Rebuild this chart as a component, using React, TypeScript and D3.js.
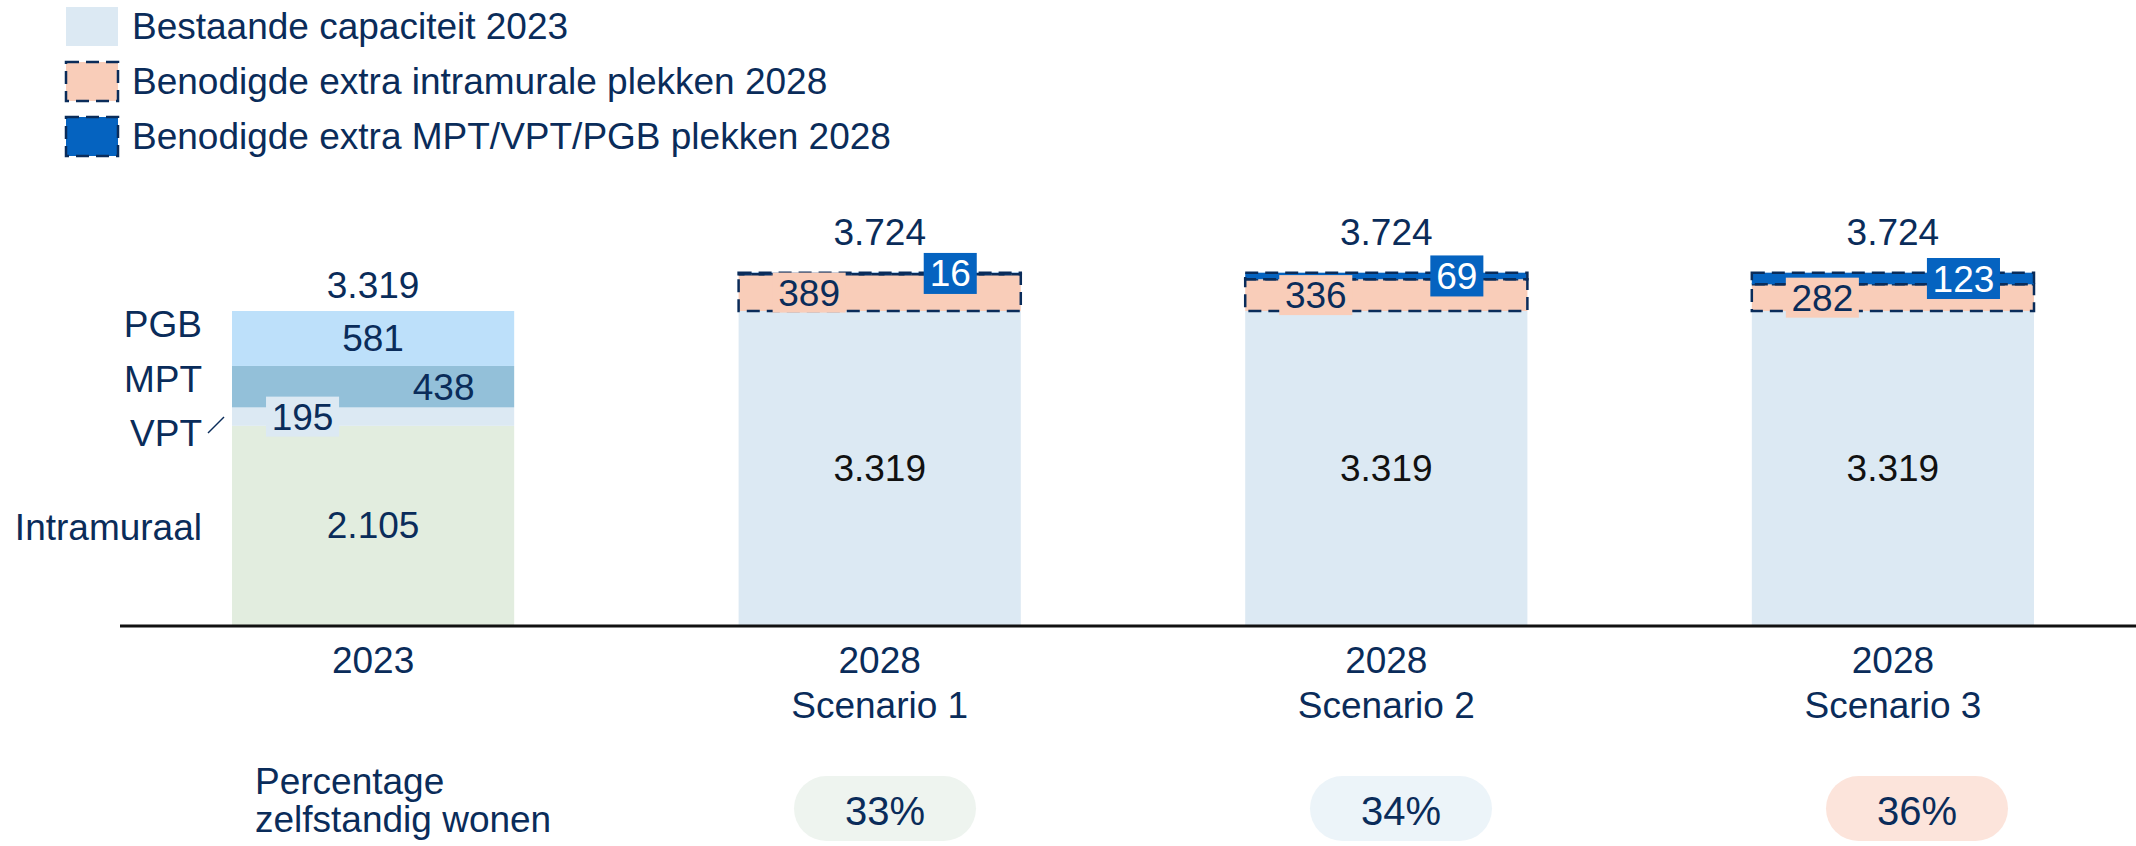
import React from "react";
import * as d3 from "d3";

// categories on the x axis
const categories = ["2023", "Scenario 1", "Scenario 2", "Scenario 3"];
const catLine1 = ["2023", "2028", "2028", "2028"];
const catLine2 = ["", "Scenario 1", "Scenario 2", "Scenario 3"];

// 2023 bar, bottom to top
const segNames2023 = ["Intramuraal", "VPT", "MPT", "PGB"];
const segValues2023 = [2105, 195, 438, 581];
const total2023 = 3319;

// scenario bars
const scenarios = ["Scenario 1", "Scenario 2", "Scenario 3"];
const bestaand = [3319, 3319, 3319];
const extraIntramuraal = [389, 336, 282];
const extraMptVptPgb = [16, 69, 123];
const scenarioTotals = [3724, 3724, 3724];
const percZelfstandig = ["33%", "34%", "36%"];

const legendLabels = [
  "Bestaande capaciteit 2023",
  "Benodigde extra intramurale plekken 2028",
  "Benodigde extra MPT/VPT/PGB plekken 2028",
];

const NAVY = "#0A2C5A";
const C_BESTAAND = "#DCE9F3";
const C_PINK = "#F9CDB9";
const C_BLUE = "#0563C0";
const segColors: Record<string, string> = {
  Intramuraal: "#E2EDDF",
  VPT: "#DCE9F3",
  MPT: "#93C0D9",
  PGB: "#BDE0FA",
};
const pillColors = ["#EEF4EF", "#ECF4F9", "#FCE4DB"];

const W = 2136;
const H = 846;
const FONT = "'Liberation Sans', Arial, sans-serif";
const FS = 37;

function fmt(v: number) {
  // dutch thousands separator
  return d3.format(",")(v).replace(/,/g, ".");
}

function boxW(s: string) {
  return s.length * 36 * 0.556 + 13;
}

export default function App() {
  const x = d3.scaleBand().domain(categories).range([232, 2034]).paddingInner(0.443).paddingOuter(0);
  const y = d3.scaleLinear().domain([0, total2023]).range([625, 311]);
  const bw = x.bandwidth();
  const pillX = d3.scalePoint().domain(scenarios).range([885, 1917]);

  // stack the 2023 bar
  const stack2023 = d3.cumsum(segValues2023);
  const x0 = x("2023")!;

  const labelRows = [
    { name: "PGB", base: 337 },
    { name: "MPT", base: 392 },
    { name: "VPT", base: 446 },
    { name: "Intramuraal", base: 540 },
  ];

  return (
    <svg width={W} height={H} style={{ position: "absolute", left: 0, top: 0, background: "#fff" }} fontFamily={FONT}>
      {/* legend */}
      {legendLabels.map((l, i) => {
        const ly = 6 + i * 55;
        return (
          <g key={l}>
            <rect x={66} y={ly + 1} width={52} height={39}
              fill={i === 0 ? C_BESTAAND : i === 1 ? C_PINK : C_BLUE}
              stroke={i === 0 ? "none" : NAVY} strokeWidth={2.5} strokeDasharray="13 7" />
            <text x={132} y={ly + 33} fontSize={FS} fill={NAVY}>{l}</text>
          </g>
        );
      })}

      {/* 2023 bar */}
      {segValues2023.map((v, i) => {
        const top = y(stack2023[i]);
        const bot = y(stack2023[i] - v);
        return <rect key={segNames2023[i]} x={x0} y={top} width={bw} height={bot - top} fill={segColors[segNames2023[i]]} />;
      })}
      {segValues2023.map((v, i) => {
        const top = y(stack2023[i]);
        const bot = y(stack2023[i] - v);
        const cy = (top + bot) / 2;
        const name = segNames2023[i];
        const cx = name === "MPT" ? x0 + bw * 0.75 : name === "VPT" ? x0 + bw * 0.25 : x0 + bw / 2;
        const s = fmt(v);
        return (
          <g key={"l" + name}>
            {name === "VPT" && (
              <rect x={cx - boxW(s) / 2} y={cy - 20} width={boxW(s)} height={40} fill={segColors.VPT} />
            )}
            <text x={cx} y={cy + 13} textAnchor="middle" fontSize={FS} fill={NAVY}>{s}</text>
          </g>
        );
      })}
      <text x={x0 + bw / 2} y={y(total2023) - 13} textAnchor="middle" fontSize={FS} fill={NAVY}>{fmt(total2023)}</text>

      {/* row labels on the left */}
      {labelRows.map((r) => (
        <text key={r.name} x={202} y={r.base} textAnchor="end" fontSize={FS} fill={NAVY}>{r.name}</text>
      ))}
      <line x1={208} y1={433} x2={224} y2={417} stroke={NAVY} strokeWidth={1.5} />

      {/* scenario bars */}
      {scenarios.map((sc, i) => {
        const bx = x(sc)!;
        const b = bestaand[i];
        const p = extraIntramuraal[i];
        const m = extraMptVptPgb[i];
        const yB = y(b);
        const yP = y(b + p);
        const yM = y(b + p + m);
        const pinkCy = (yB + yP) / 2;
        const blueCy = (yP + yM) / 2;
        const ps = fmt(p);
        const ms = fmt(m);
        return (
          <g key={sc}>
            <rect x={bx} y={yB} width={bw} height={y(0) - yB} fill={C_BESTAAND} />
            <rect x={bx} y={yP} width={bw} height={yB - yP} fill={C_PINK}
              stroke={NAVY} strokeWidth={2.5} strokeDasharray="13 7" />
            <rect x={bx} y={yM} width={bw} height={yP - yM} fill={C_BLUE}
              stroke={NAVY} strokeWidth={2.5} strokeDasharray="13 7" />
            <text x={bx + bw / 2} y={(yB + y(0)) / 2 + 13} textAnchor="middle" fontSize={FS} fill="#111">{fmt(b)}</text>
            <rect x={bx + bw * 0.25 - boxW(ps) / 2} y={pinkCy - 20} width={boxW(ps)} height={40} fill={C_PINK} />
            <text x={bx + bw * 0.25} y={pinkCy + 13} textAnchor="middle" fontSize={FS} fill={NAVY}>{ps}</text>
            <rect x={bx + bw * 0.75 - boxW(ms) / 2} y={blueCy - 20.5} width={boxW(ms)} height={41} fill={C_BLUE} />
            <text x={bx + bw * 0.75} y={blueCy + 13} textAnchor="middle" fontSize={FS} fill="#fff">{ms}</text>
            <text x={bx + bw / 2} y={y(scenarioTotals[i]) - 28} textAnchor="middle" fontSize={FS} fill={NAVY}>{fmt(scenarioTotals[i])}</text>
          </g>
        );
      })}

      {/* axis */}
      <line x1={120} x2={W} y1={y(0) + 1} y2={y(0) + 1} stroke="#111" strokeWidth={3} />
      {categories.map((c, i) => (
        <g key={"c" + c}>
          <text x={x(c)! + bw / 2} y={673} textAnchor="middle" fontSize={FS} fill={NAVY}>{catLine1[i]}</text>
          {catLine2[i] && (
            <text x={x(c)! + bw / 2} y={718} textAnchor="middle" fontSize={FS} fill={NAVY}>{catLine2[i]}</text>
          )}
        </g>
      ))}

      {/* percentage row */}
      <text x={255} y={794} fontSize={FS} fill={NAVY}>Percentage</text>
      <text x={255} y={832} fontSize={FS} fill={NAVY}>zelfstandig wonen</text>
      {scenarios.map((sc, i) => {
        const cx = pillX(sc)!;
        return (
          <g key={"p" + sc}>
            <rect x={cx - 91} y={776} width={182} height={65} rx={32.5} fill={pillColors[i]} />
            <text x={cx} y={825} textAnchor="middle" fontSize={40} fill={NAVY}>{percZelfstandig[i]}</text>
          </g>
        );
      })}
    </svg>
  );
}
